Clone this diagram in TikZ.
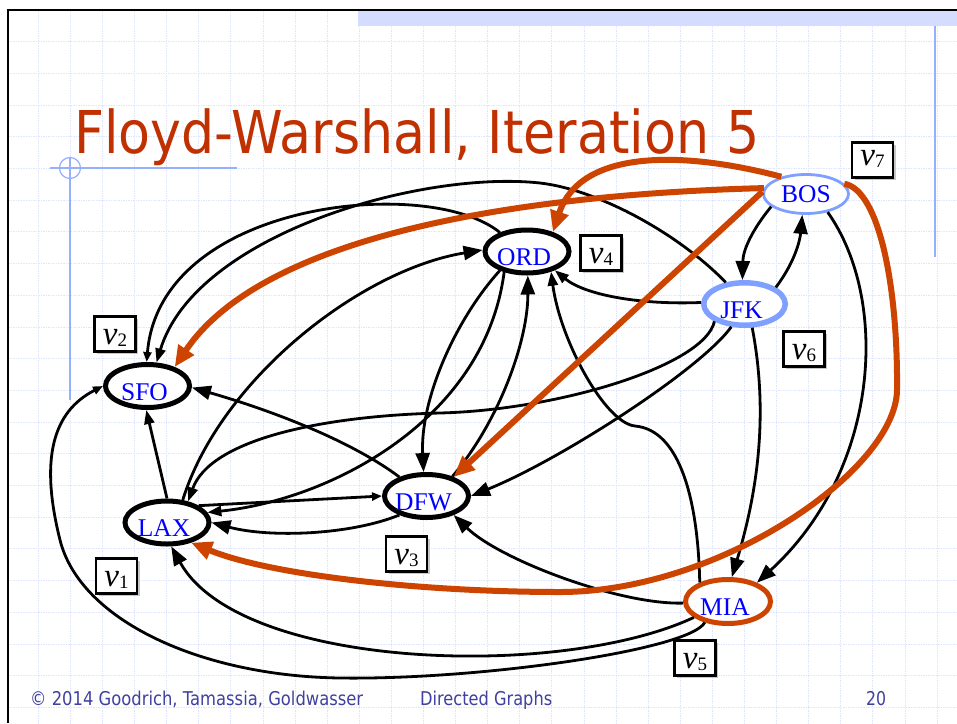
\documentclass[tikz,border=0pt]{standalone}
\usepackage{fontspec}
\setmainfont{Liberation Serif}
\newfontfamily\dejavu{DejaVu Sans}
\usepackage{graphicx}
\usetikzlibrary{shapes.geometric,arrows.meta,shadows}
\definecolor{fwred}{RGB}{192,48,0}
\definecolor{fworange}{RGB}{204,68,0}
\definecolor{fwlblue}{RGB}{128,160,255}
\definecolor{gridblue}{RGB}{222,229,255}
\definecolor{footblue}{RGB}{64,64,160}
\definecolor{bandblue}{RGB}{212,220,255}
\definecolor{crossblue}{RGB}{150,175,255}
\newcommand{\vlab}[1]{{\fontsize{33}{33}\selectfont\itshape v}\raisebox{-2pt}{\fontsize{19}{19}\selectfont #1}}
\newcommand{\ctxt}[1]{\makebox[0pt]{\hspace{-6pt}#1}}
\begin{document}
\begin{tikzpicture}[x=1pt,y=-1pt,
  gridline/.style={gridblue, line width=0.9pt, dash pattern=on 1.5pt off 1pt},
  city/.style={ellipse, draw, fill=white, line width=5pt, minimum width=84pt, minimum height=43pt, inner sep=0pt, text=blue, font=\fontsize{25.5}{25.5}\selectfont, text height=28.5pt, text depth=0pt},
  vbox/.style={draw, line width=2.8pt, fill=white, minimum width=41pt, minimum height=35pt, inner sep=0pt, text height=20pt, text depth=0pt, drop shadow={shadow xshift=2.5pt, shadow yshift=-2.5pt, fill=black!22, opacity=1}},
  blk/.style={line width=2.8pt, draw=black},
  big/.style={blk, -{Triangle[length=19pt,width=14pt]}},
  med/.style={blk, -{Triangle[length=14pt,width=10pt]}},
  sml/.style={blk, -{Triangle[length=10pt,width=8pt]}},
  orng/.style={line width=6pt, draw=fworange, -{Triangle[length=21pt,width=18pt]}}
]
\useasboundingbox (0,0) rectangle (957,723);
\fill[white] (0,0) rectangle (957,723);
% background grid
\foreach \i in {0,...,28} \draw[gridline] ({38.3+32.1*\i},10) -- ({38.3+32.1*\i},723);
\foreach \j in {0,...,21} \draw[gridline] (8,{41.7+31.7*\j}) -- (957,{41.7+31.7*\j});
\fill[bandblue] (358,11) rectangle (957,26);
\draw[line width=2.5pt] (8,723) -- (8,10) -- (957,10);
\draw[crossblue, line width=1.5pt] (935,26) -- (935,257);
\draw[crossblue, line width=1.2pt] (50,168) -- (237,168) (70,158) -- (70,400);
\draw[crossblue, line width=1.2pt] (70,168) circle[radius=10.5pt];
% title and footer
\node[anchor=base west, inner sep=0pt, text=fwred] (title) at (74,153) {\resizebox{685pt}{\height}{\dejavu\fontsize{59}{59}\selectfont Floyd-Warshall, Iteration 5}};
\node[anchor=base west, inner sep=0pt, text=footblue] (foot1) at (30,705) {\resizebox{333pt}{\height}{\dejavu\fontsize{19}{19}\selectfont \textcopyright\ 2014 Goodrich, Tamassia, Goldwasser}};
\node[anchor=base west, inner sep=0pt, text=footblue] (foot2) at (420,705) {\resizebox{132pt}{\height}{\dejavu\fontsize{19}{19}\selectfont Directed Graphs}};
\node[anchor=base west, inner sep=0pt, text=footblue] (foot3) at (866,705) {\resizebox{20pt}{\height}{\dejavu\fontsize{19}{19}\selectfont 20}};
% cities
\node[city] (SFO) at (147.5,386) {\ctxt{SFO}};
\node[city] (LAX) at (167,522.5) {\ctxt{LAX}};
\node[city] (DFW) at (426.5,496) {\ctxt{DFW}};
\node[city] (ORD) at (527,251.5) {\ctxt{ORD}};
\node[city, draw=fwlblue, line width=5.5pt, minimum width=81.5pt, minimum height=42.5pt] (JFK) at (744.5,304) {\ctxt{JFK}};
\node[city, draw=fwlblue, line width=2.8pt, minimum width=85pt, minimum height=39pt, text height=16.5pt] (BOS) at (806,194) {\makebox[0pt]{BOS}};
\node[city, draw=fworange, minimum width=85pt, minimum height=44pt] (MIA) at (728,601.5) {\ctxt{MIA}};
% black edges
\draw[sml] (ORD.145) .. controls (430,175) and (160,200) .. (SFO.92);
\draw[med] (JFK.131) .. controls (680,235) and (600,190) .. (540,183) .. controls (420,170) and (195,235) .. (SFO.69);
\draw[big] (BOS.200) .. controls (752,230) and (743,250) .. (JFK.95);
\draw[big] (JFK.28) .. controls (795,262) and (800,240) .. (BOS.-100);
\draw[big] (JFK.-72) .. controls (770,420) and (755,500) .. (MIA.81);
\draw[big] (BOS.-40) .. controls (890,300) and (880,470) .. (MIA.33);
\draw[med] (JFK.178) .. controls (640,305) and (585,295) .. (ORD.-34);
\draw[med] (MIA.146) .. controls (698,500) and (680,430) .. (635,426) .. controls (605,423) and (560,340) .. (ORD.-40);
\draw[big] (DFW.37) .. controls (500,420) and (528,340) .. (ORD.-88);
\draw[big] (ORD.215) .. controls (455,320) and (420,400) .. (DFW.97);
\draw[med] (ORD.222) .. controls (485,420) and (330,500) .. (LAX.14);
\draw[big] (LAX.55) .. controls (220,380) and (360,270) .. (ORD.178);
\draw[med] (LAX.90) -- (SFO.-93);
\draw[sml] (LAX.28) -- (DFW.180);
\draw[big] (DFW.215) .. controls (350,535) and (270,538) .. (LAX.0);
\draw[big] (DFW.145) .. controls (350,440) and (270,410) .. (SFO.-2);
\draw[big] (MIA.182) .. controls (620,605) and (500,560) .. (DFW.-35);
\draw[big] (MIA.205) .. controls (560,680) and (240,670) .. (LAX.-80);
\draw[sml] (MIA.222) .. controls (690,650) and (480,680) .. (340,678) .. controls (200,676) and (80,620) .. (60,540) .. controls (40,460) and (52,412) .. (SFO.180);
\draw[med] (JFK.210) .. controls (705,365) and (560,410) .. (440,413) .. controls (320,416) and (210,440) .. (LAX.45);
\draw[big] (JFK.240) .. controls (700,370) and (560,460) .. (DFW.0);
% orange edges
\draw[orng] (BOS.172) .. controls (500,195) and (260,240) .. (SFO.35);
\draw[orng] (BOS.145) .. controls (680,150) and (580,150) .. (ORD.37);
\draw[orng] (BOS.177) -- (DFW.35);
\draw[orng] (BOS.15) .. controls (880,190) and (898,290) .. (897,390) .. controls (896,470) and (720,592) .. (560,592) .. controls (420,592) and (270,575) .. (LAX.-40);
% vertex labels
\node[vbox, text height=11pt] (v7) at (872.5,160) {\vlab{7}};
\node[vbox] (v4) at (601,253) {\vlab{4}};
\node[vbox] (v6) at (804,349) {\vlab{6}};
\node[vbox] (v2) at (115,334) {\vlab{2}};
\node[vbox] (v1) at (116.5,576) {\vlab{1}};
\node[vbox] (v3) at (406.5,554) {\vlab{3}};
\node[vbox] (v5) at (695,658) {\vlab{5}};
\end{tikzpicture}
\end{document}
